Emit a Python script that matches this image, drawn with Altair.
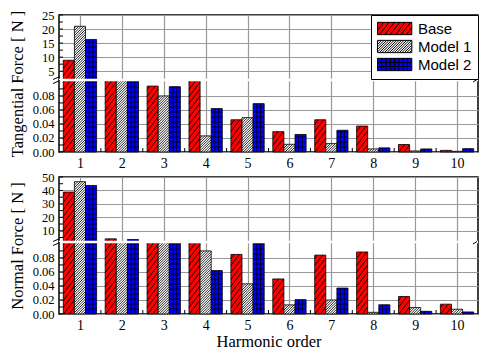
import altair as alt
import pandas as pd

# ---------------- data ----------------
harmonics = [1, 2, 3, 4, 5, 6, 7, 8, 9, 10]
series_names = ["Base", "Model 1", "Model 2"]
series_colors = ["#ff0000", "#ffffff", "#0000ff"]

tan_base = [8.9, 1.0, 0.094, 1.0, 0.046, 0.029, 0.046, 0.037, 0.0107, 0.0023]
tan_model1 = [21.0, 1.0, 0.080, 0.023, 0.049, 0.011, 0.012, 0.0044, 0.0015, 0.0010]
tan_model2 = [16.3, 1.0, 0.093, 0.062, 0.069, 0.025, 0.031, 0.0059, 0.0044, 0.0048]

nor_base = [38.8, 4.0, 1.0, 1.0, 0.085, 0.050, 0.084, 0.0885, 0.025, 0.014]
nor_model1 = [46.5, 1.0, 1.0, 0.090, 0.043, 0.013, 0.020, 0.0024, 0.0092, 0.0068]
nor_model2 = [43.7, 3.5, 1.0, 0.062, 0.101, 0.0205, 0.037, 0.0132, 0.0038, 0.0029]

lower_major = [0.00, 0.02, 0.04, 0.06, 0.08]
lower_minor = [0.01, 0.03, 0.05, 0.07, 0.09]
tan_upper_major = [5, 10, 15, 20, 25]
tan_upper_minor = [7.5, 12.5, 17.5, 22.5]
nor_upper_major = [10, 20, 30, 40, 50]
nor_upper_minor = [5, 15, 25, 35, 45]

# broken-axis sections: lower [0, B], upper [L, U]
TAN_B, TAN_L, TAN_U = 0.1027, 1.87, 25.0
NOR_B, NOR_L, NOR_U = 0.1027, 1.63, 50.0

# ---------------- geometry / style ----------------
W, H = 419, 137
LOW_PX = 72.0                 # pixel height of the lower section
SEC = H / 2.0                 # pixels per y-unit (y domain is [0, 2])
F = LOW_PX / SEC              # y-unit position of the break
PXX = W / 10.0
BW = 0.265
BWPX = BW * PXX
CELL_H = 5.0
BRK_PX = H - LOW_PX           # break position from the top, px
SERIF = "Liberation Serif"
SANS = "Liberation Sans"


def long_df(b, m1, m2):
    rows = []
    for k, vals in enumerate([b, m1, m2]):
        for h, v in zip(harmonics, vals):
            rows.append({"h": h, "series": series_names[k], "k": k, "v": v})
    return pd.DataFrame(rows)


def texpr(f, B, L, U):
    return (f"{f} <= {B} ? {f}/{B}*{F} : ({f} < {L} ? {F} : "
            f"{F} + ({f}-{L})/{U - L}*{2 - F})")


# ----- legend symbols (hatched swatches as custom paths) -----
SYM_D = 14.0
UPX = SYM_D / 2.0
SW, SH = 34.3, 12.3


def sym_path(kind):
    l = -1.0
    r = l + SW / UPX
    hh = SH / 2 / UPX
    parts = [f"M{l:.3f},{-hh:.3f}L{r:.3f},{-hh:.3f}L{r:.3f},{hh:.3f}L{l:.3f},{hh:.3f}Z"]

    def seg(x0, y0, x1, y1):
        parts.append(f"M{l + x0 / UPX:.3f},{hh - y0 / UPX:.3f}L{l + x1 / UPX:.3f},{hh - y1 / UPX:.3f}")

    if kind in ("wide", "dense"):
        s, m = (7.0, 1.3) if kind == "wide" else (2.5, 1.0)
        c = -m * SW + s
        while c < SH:
            x0 = 0 if c >= 0 else -c / m
            y0 = max(c, 0)
            if c + m * SW <= SH:
                x1, y1 = SW, c + m * SW
            else:
                x1, y1 = (SH - c) / m, SH
            seg(x0, y0, x1, y1)
            c += s
    else:
        for j in range(1, 8):
            seg(j * SW / 8, 0, j * SW / 8, SH)
        for j in range(1, 3):
            seg(0, j * SH / 3, SW, j * SH / 3)
    return " ".join(parts)


sym_paths = [sym_path("wide"), sym_path("dense"), sym_path("grid")]

legend = alt.Legend(
    title=None, orient="top-right", offset=0, symbolSize=SYM_D * SYM_D,
    symbolStrokeColor="black", symbolStrokeWidth=1, symbolOpacity=1,
    labelFont=SANS, labelFontSize=15, labelColor="black", labelOffset=26,
    rowPadding=1, padding=6, strokeColor="black", fillColor="white",
    cornerRadius=0,
)


def panel(df, B, L, U, umaj, umin, ytitle, xtitle, show_legend):
    xs = alt.Scale(domain=[0.5, 10.5], nice=False, zero=False)
    ys = alt.Scale(domain=[0, 2], nice=False, zero=False)

    def tpy(v):
        return v / B * F if v <= B else F + (v - L) / (U - L) * (2 - F)

    yvals = [tpy(v) for v in lower_major + umaj]
    xaxis = alt.Axis(values=harmonics, format="d", grid=True, ticks=False, domain=False,
                     title=xtitle, labelPadding=4, titlePadding=1.5, labelFontSize=14)
    yaxis = alt.Axis(values=yvals, grid=True, ticks=False, domain=False, title=ytitle,
                     labelExpr=(f"datum.value < {F} ? format(datum.value/{F}*{B}, '.2f') : "
                                f"format({L} + (datum.value-{F})/{2 - F}*{U - L}, '.0f')"),
                     labelOverlap=False, labelPadding=5, titlePadding=7, labelFontSize=12.5)

    def X(f):
        return alt.X(f, scale=xs, axis=xaxis)

    def Y(f):
        return alt.Y(f, scale=ys, axis=yaxis)

    base = alt.Chart(df).transform_calculate(
        t=texpr("datum.v", B, L, U),
        t0="0",
        xl=f"datum.h + (datum.k - 1.5)*{BW}",
        xr=f"datum.h + (datum.k - 0.5)*{BW}",
    )
    fill = alt.Fill("series:N", scale=alt.Scale(domain=series_names, range=series_colors),
                    legend=legend if show_legend else None)

    bars = base.mark_rect(stroke="black", strokeWidth=0.8).encode(
        x=X("xl:Q"), x2="xr:Q", y=Y("t:Q"), y2="t0:Q", fill=fill,
    )

    diag = base.transform_filter("datum.series != 'Model 2'").transform_calculate(
        hp=f"datum.t*{SEC}",
        s="datum.series == 'Base' ? 7 : 2.5",
        m="datum.series == 'Base' ? 1.3 : 1.0",
    ).transform_calculate(
        idx=f"sequence(0, ceil((datum.hp + datum.m*{BWPX})/datum.s) + 1)"
    ).transform_flatten(["idx"]).transform_calculate(
        c=f"datum.idx*datum.s - datum.m*{BWPX}"
    ).transform_filter(
        f"datum.c < datum.hp && datum.c > -datum.m*{BWPX}"
    ).transform_calculate(
        x0p="datum.c >= 0 ? 0 : -datum.c/datum.m",
        y0p="max(datum.c, 0)",
        x1p=f"datum.c + datum.m*{BWPX} <= datum.hp ? {BWPX} : (datum.hp - datum.c)/datum.m",
        y1p=f"min(datum.c + datum.m*{BWPX}, datum.hp)",
        X0=f"datum.xl + datum.x0p/{PXX}",
        X1=f"datum.xl + datum.x1p/{PXX}",
        Y0=f"datum.y0p/{SEC}",
        Y1=f"datum.y1p/{SEC}",
    ).mark_rule(color="black", strokeWidth=0.85).encode(
        x=X("X0:Q"), x2="X1:Q", y=Y("Y0:Q"), y2="Y1:Q",
    )

    gv = base.transform_filter("datum.series == 'Model 2' && datum.t > 0").transform_calculate(
        idx="sequence(1, 3)"
    ).transform_flatten(["idx"]).transform_calculate(
        X=f"datum.xl + datum.idx*{BW / 3}"
    ).mark_rule(color="black", strokeWidth=0.8).encode(
        x=X("X:Q"), y=Y("t0:Q"), y2="t:Q",
    )

    gh = base.transform_filter("datum.series == 'Model 2'").transform_calculate(
        hp=f"datum.t*{SEC}"
    ).transform_calculate(
        idx=f"sequence(1, ceil(datum.hp/{CELL_H}))"
    ).transform_flatten(["idx"]).transform_calculate(
        Y=f"datum.idx*{CELL_H}/{SEC}"
    ).transform_filter("datum.Y < datum.t").mark_rule(color="black", strokeWidth=0.8).encode(
        x=X("xl:Q"), x2="xr:Q", y=Y("Y:Q"),
    )

    one = pd.DataFrame({"b": [F]})
    brk = alt.Chart(one).mark_rule(color="white", strokeWidth=2.5).encode(y=Y("b:Q"))
    sl1 = alt.Chart(one).mark_rule(color="black", strokeWidth=1).encode(
        x=alt.value(-6), x2=alt.value(1), y=alt.value(BRK_PX - 0.5), y2=alt.value(BRK_PX - 3.5))
    sl2 = alt.Chart(one).mark_rule(color="black", strokeWidth=1).encode(
        x=alt.value(-6), x2=alt.value(1), y=alt.value(BRK_PX + 3.5), y2=alt.value(BRK_PX + 0.5))
    sl3 = alt.Chart(one).mark_rule(color="black", strokeWidth=1).encode(
        x=alt.value(W - 5), x2=alt.value(W - 1), y=alt.value(BRK_PX + 2), y2=alt.value(BRK_PX - 0.5))

    tick_df = pd.DataFrame({"tv": lower_major + lower_minor + umaj + umin})
    yticks = alt.Chart(tick_df).transform_calculate(
        tt=texpr("datum.tv", B, L, U)
    ).mark_rule(color="black", strokeWidth=1).encode(
        y=Y("tt:Q"), x=alt.value(0), x2=alt.value(4)
    )
    xticks = alt.Chart(pd.DataFrame({"h": harmonics[:-1]})).transform_calculate(
        xb="datum.h + 0.5"
    ).mark_rule(color="black", strokeWidth=1).encode(
        x=X("xb:Q"), y=alt.value(H), y2=alt.value(H - 4)
    )

    layers = [bars, diag, gv, gh, brk, sl1, sl2, sl3, yticks, xticks]
    if show_legend:
        pts = base.mark_point(filled=True, opacity=0).encode(
            x=X("xl:Q"), y=Y("t:Q"),
            fill=fill,
            stroke=alt.Stroke("series:N", scale=alt.Scale(domain=series_names,
                                                          range=["black", "black", "black"]),
                              legend=legend),
            shape=alt.Shape("series:N", scale=alt.Scale(domain=series_names, range=sym_paths),
                            legend=legend),
        )
        layers.append(pts)
    return alt.layer(*layers).properties(width=W, height=H)


top = panel(long_df(tan_base, tan_model1, tan_model2), TAN_B, TAN_L, TAN_U,
            tan_upper_major, tan_upper_minor, "Tangential Force [ N ]", None, True)
bottom = panel(long_df(nor_base, nor_model1, nor_model2), NOR_B, NOR_L, NOR_U,
               nor_upper_major, nor_upper_minor, "Normal Force [ N ]", "Harmonic order", False)

chart = alt.vconcat(top, bottom, spacing=25, bounds="flush").resolve_scale(
    x="independent", y="independent", fill="independent", shape="independent",
    stroke="independent",
).resolve_legend(fill="independent", shape="independent", stroke="independent").properties(
    padding={"left": 0, "top": 0, "right": 0, "bottom": 0}
).configure_view(
    stroke="black", strokeWidth=1.5
).configure_axis(
    labelFont=SERIF, labelFontSize=14, labelColor="black",
    titleFont=SERIF, titleFontSize=16.5, titleColor="black", titleFontWeight="normal",
    gridColor="#999999", gridWidth=1.2,
)

chart.save("out.html", embed_options={"renderer": "svg", "actions": False})
